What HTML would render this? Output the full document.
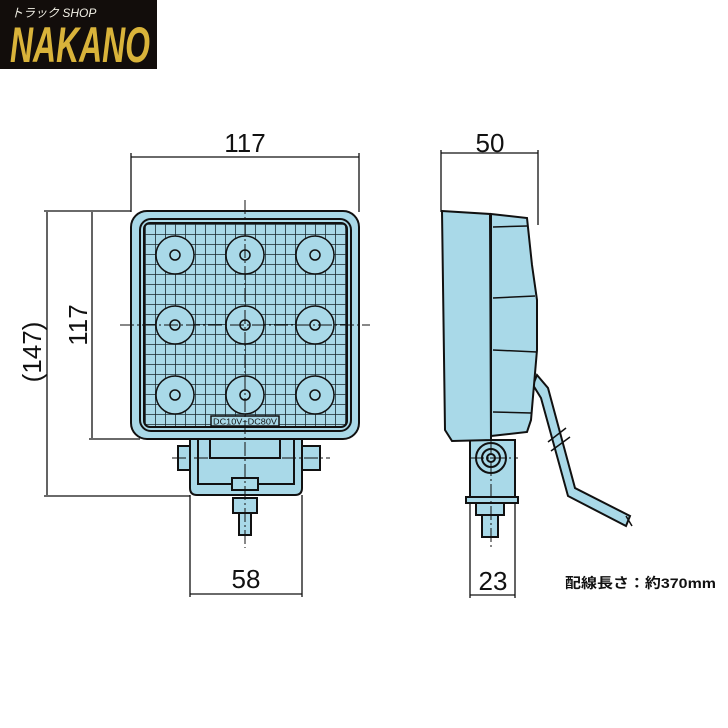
<!DOCTYPE html>
<html><head><meta charset="utf-8"><style>
html,body{margin:0;padding:0;background:#fff;}
svg{display:block;}
</style></head><body>
<svg width="728" height="728" viewBox="0 0 728 728" xmlns="http://www.w3.org/2000/svg" font-family="Liberation Sans, sans-serif">
<defs>
<pattern id="grid" x="145" y="224" width="10" height="10" patternUnits="userSpaceOnUse">
<rect width="10" height="10" fill="#a9d9e8"/>
<path d="M0 0H10M0 0V10" stroke="#1a2a30" stroke-width="1.6"/>
</pattern>
</defs>
<!-- logo -->
<rect x="0" y="0" width="157" height="69" fill="#120d0b"/>
<text x="11" y="17" font-size="12" font-style="italic" fill="#f2f0e6" font-family="Liberation Sans, Noto Sans CJK JP, sans-serif">トラック SHOP</text>
<text x="10" y="62" font-size="50" font-weight="bold" font-style="italic" fill="#d9b33a" textLength="140" lengthAdjust="spacingAndGlyphs">NAKANO</text>

<g stroke="#111" stroke-width="1.3" fill="none">
<line x1="131" y1="153" x2="131" y2="212"/><line x1="359" y1="153" x2="359" y2="212"/>
<line x1="131" y1="157" x2="359" y2="157"/>
<line x1="44" y1="211" x2="131" y2="211"/><line x1="44" y1="496" x2="190" y2="496"/>
<line x1="89" y1="439" x2="140" y2="439"/>
<line x1="47" y1="212" x2="47" y2="495"/><line x1="92" y1="212" x2="92" y2="438"/>
<line x1="190" y1="495" x2="190" y2="597"/><line x1="302" y1="495" x2="302" y2="597"/>
<line x1="190" y1="594" x2="302" y2="594"/>
<line x1="441" y1="150" x2="441" y2="212"/><line x1="538" y1="150" x2="538" y2="225"/>
<line x1="441" y1="153" x2="538" y2="153"/>
<line x1="470" y1="470" x2="470" y2="598"/><line x1="515" y1="470" x2="515" y2="598"/>
<line x1="470" y1="595" x2="515" y2="595"/>
</g>
<g font-size="26" fill="#111" text-anchor="middle">
<text x="245" y="152">117</text>
<text x="490" y="152">50</text>
<text x="246" y="588">58</text>
<text x="493" y="590">23</text>
<text transform="translate(87,325) rotate(-90)">117</text>
<text transform="translate(41,352) rotate(-90)">(147)</text>
</g>
<text x="565" y="588" font-size="14" font-weight="bold" fill="#111" textLength="151" lengthAdjust="spacingAndGlyphs" font-family="Liberation Sans, Noto Sans CJK JP, sans-serif">配線長さ：約370mm</text>

<g stroke="#111" stroke-width="2" fill="#a9d9e8">
<rect x="178" y="446" width="12" height="24"/>
<rect x="302" y="446" width="18" height="24"/>
<path d="M190 438 H302 V488 Q302 495 295 495 H197 Q190 495 190 488Z"/>
<path d="M198 438 H294 V484 H198Z"/>
<rect x="210" y="438" width="70" height="20"/>
<rect x="232" y="478" width="26" height="12"/>
<rect x="233" y="498" width="24" height="15"/>
<rect x="239" y="513" width="12" height="22"/>
<rect x="131" y="211" width="228" height="228" rx="16"/>
<rect x="140" y="219" width="211" height="212" rx="11"/>
<rect x="144" y="223" width="203" height="204" rx="6" fill="url(#grid)"/>
</g>
<g stroke="#111" stroke-width="1.5" fill="#a9d9e8">
<circle cx="175" cy="255" r="19"/><circle cx="245" cy="255" r="19"/><circle cx="315" cy="255" r="19"/>
<circle cx="175" cy="325" r="19"/><circle cx="245" cy="325" r="19"/><circle cx="315" cy="325" r="19"/>
<circle cx="175" cy="395" r="19"/><circle cx="245" cy="395" r="19"/><circle cx="315" cy="395" r="19"/>
<circle cx="175" cy="255" r="5"/><circle cx="245" cy="255" r="5"/><circle cx="315" cy="255" r="5"/>
<circle cx="175" cy="325" r="5"/><circle cx="245" cy="325" r="5"/><circle cx="315" cy="325" r="5"/>
<circle cx="175" cy="395" r="5"/><circle cx="245" cy="395" r="5"/><circle cx="315" cy="395" r="5"/>
<rect x="211" y="416" width="68" height="10"/>
</g>
<text x="245" y="424.5" font-size="8.5" text-anchor="middle" fill="#111" textLength="64" lengthAdjust="spacingAndGlyphs">DC10V~DC80V</text>
<g stroke="#111" stroke-width="1" stroke-dasharray="14 3 2 3">
<line x1="245" y1="200" x2="245" y2="548"/>
<line x1="120" y1="325" x2="370" y2="325"/>
<line x1="172" y1="458" x2="330" y2="458"/>
</g>

<g stroke="#111" stroke-width="2" fill="#a9d9e8">
<path d="M537 375 L548 388 L575 488 L630 516 L626 526 L568 496 L541 398 L533 385Z"/>
<path d="M470 440 L515 440 L515 497 L470 497Z"/>
<rect x="476" y="503" width="28" height="12"/>
<rect x="482" y="515" width="16" height="22"/>
<path d="M466 497 H518 V503 H466Z"/>
<path d="M491 214 L527 218 L532 265 L537 300 L537 350 L531 420 L527 432 L491 436Z"/>
<path d="M442 211 L490 214 L491 440 L452 441 L445 430Z"/>
<circle cx="491" cy="458" r="15"/>
<circle cx="491" cy="458" r="9"/>
<circle cx="491" cy="458" r="4"/>
</g>
<g stroke="#111" stroke-width="1.5" fill="none">
<line x1="493" y1="227" x2="527" y2="226"/><line x1="493" y1="298" x2="535" y2="296"/>
<line x1="493" y1="350" x2="537" y2="352"/><line x1="493" y1="412" x2="531" y2="413"/>
<line x1="548" y1="442" x2="566" y2="428"/><line x1="551" y1="451" x2="570" y2="437"/>
<line x1="626" y1="516" x2="632" y2="526"/>
</g>
<g stroke="#111" stroke-width="1" stroke-dasharray="14 3 2 3">
<line x1="491" y1="440" x2="491" y2="548"/>
<line x1="470" y1="458" x2="518" y2="458"/>
</g>
</svg>
</body></html>
